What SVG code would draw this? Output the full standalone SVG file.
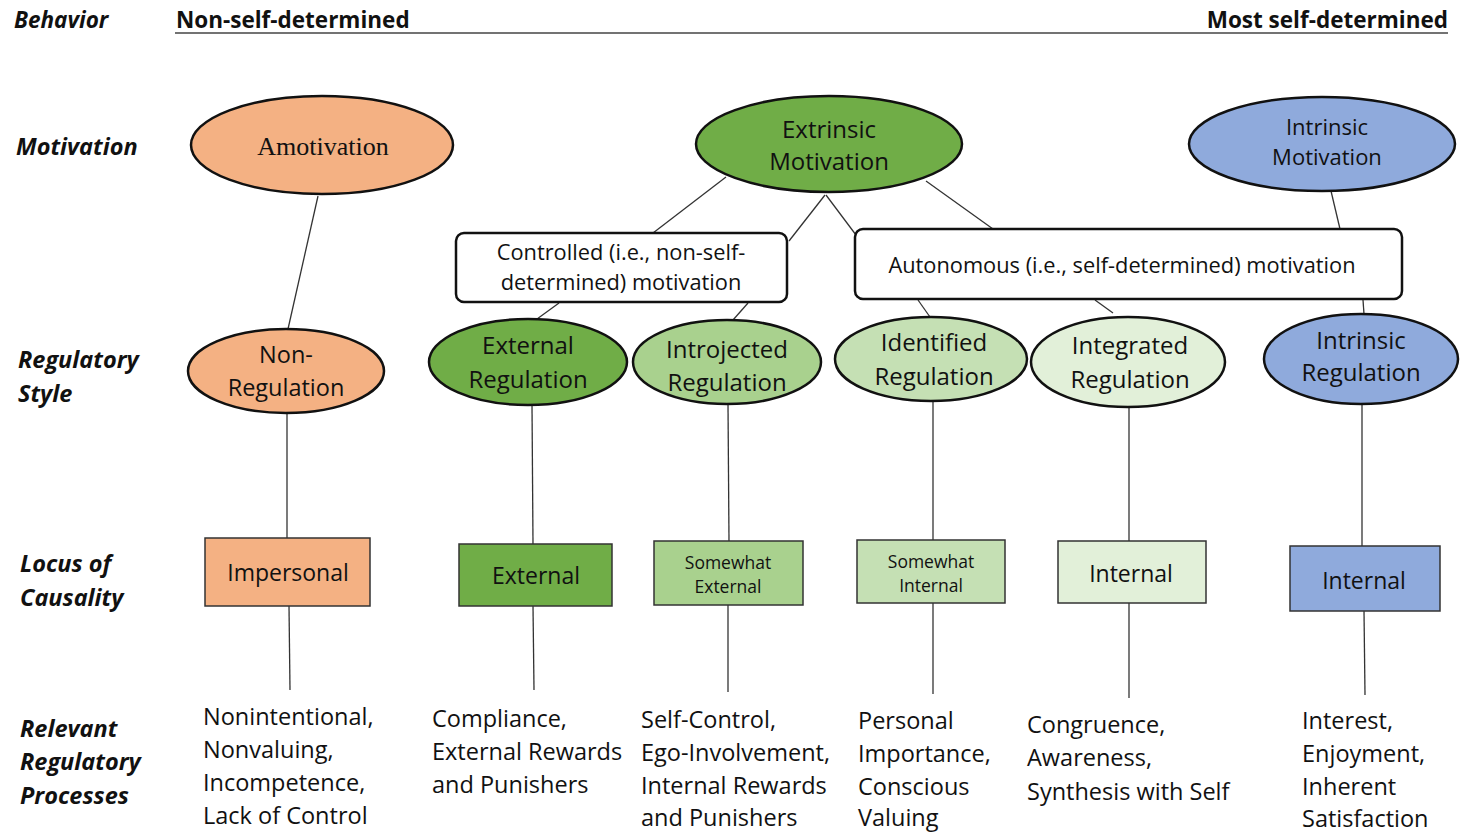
<svg xmlns="http://www.w3.org/2000/svg" width="1461" height="832" viewBox="0 0 1461 832">
<style>
text{font-family:"Open Sans","Noto Sans",sans-serif;fill:#111}
.hd{font-weight:bold;font-size:22.5px}
.rl{font-weight:bold;font-style:italic;font-size:23.5px}
.nt{font-size:24px;text-anchor:middle}
.sm{font-size:17.5px;text-anchor:middle}
.bt{font-size:23.5px}
.el{stroke:#111;stroke-width:2.5}
.bx{stroke:#333;stroke-width:1.5}
.rb{fill:#fff;stroke:#111;stroke-width:2.5}
.cn line{stroke:#333;stroke-width:1.3}
</style>
<g id="header">
<text class="rl" x="14" y="28" style="font-size:22.5px">Behavior</text>
<text class="hd" x="176" y="28">Non-self-determined</text>
<text class="hd" x="1448" y="28" text-anchor="end">Most self-determined</text>
<line x1="175" y1="33" x2="1448" y2="33" stroke="#444" stroke-width="1.3"/>
</g>
<g id="row-labels">
<text class="rl" x="16" y="155">Motivation</text>
<text class="rl" x="18" y="368">Regulatory</text>
<text class="rl" x="18" y="402">Style</text>
<text class="rl" x="20" y="572">Locus of</text>
<text class="rl" x="20" y="606">Causality</text>
<text class="rl" x="20" y="737">Relevant</text>
<text class="rl" x="20" y="770">Regulatory</text>
<text class="rl" x="20" y="804">Processes</text>
</g>
<g id="connectors" class="cn">
<line x1="318" y1="196" x2="288" y2="329"/>
<line x1="726" y1="177" x2="653" y2="233"/>
<line x1="825" y1="195" x2="789" y2="241"/>
<line x1="826" y1="195" x2="856" y2="235"/>
<line x1="926" y1="181" x2="993" y2="229"/>
<line x1="1331" y1="191" x2="1340" y2="229"/>
<line x1="559" y1="303" x2="537" y2="319"/>
<line x1="748" y1="303" x2="733" y2="320"/>
<line x1="918" y1="300" x2="930" y2="317"/>
<line x1="1095" y1="300" x2="1113" y2="313"/>
<line x1="1363" y1="300" x2="1364" y2="314"/>
<line x1="287" y1="413" x2="287" y2="538"/>
<line x1="289" y1="606" x2="290" y2="690"/>
<line x1="532" y1="405" x2="533" y2="544"/>
<line x1="533" y1="606" x2="534" y2="690"/>
<line x1="728" y1="404" x2="729" y2="541"/>
<line x1="728" y1="605" x2="728" y2="692"/>
<line x1="933" y1="401" x2="933" y2="540"/>
<line x1="933" y1="603" x2="933" y2="694"/>
<line x1="1129" y1="407" x2="1129" y2="541"/>
<line x1="1129" y1="603" x2="1129" y2="698"/>
<line x1="1362" y1="404" x2="1362" y2="546"/>
<line x1="1364" y1="611" x2="1365" y2="695"/>
</g>
<g id="amotivation">
<ellipse class="el" cx="322" cy="145" rx="131" ry="49" fill="#f4b183"/>
<text x="323" y="155" font-size="26" text-anchor="middle" style="font-family:'Liberation Serif',serif">Amotivation</text>
</g>
<g id="extrinsic-motivation">
<ellipse class="el" cx="829" cy="144" rx="133" ry="48" fill="#70ad47"/>
<text class="nt" x="829" y="138">Extrinsic</text>
<text class="nt" x="829" y="170">Motivation</text>
</g>
<g id="intrinsic-motivation">
<ellipse class="el" cx="1322" cy="144" rx="133" ry="47" fill="#8faadc"/>
<text class="nt" x="1327" y="135" style="font-size:22px">Intrinsic</text>
<text class="nt" x="1327" y="165" style="font-size:22px">Motivation</text>
</g>
<g id="controlled">
<rect class="rb" x="456" y="233" width="331" height="69" rx="8"/>
<text class="nt" x="621" y="260" style="font-size:21.8px">Controlled (i.e., non-self-</text>
<text class="nt" x="621" y="290" style="font-size:21.8px">determined) motivation</text>
</g>
<g id="autonomous">
<rect class="rb" x="855" y="229" width="547" height="70" rx="8"/>
<text class="nt" x="1122" y="273" style="font-size:21.8px">Autonomous (i.e., self-determined) motivation</text>
</g>
<g id="non-regulation">
<ellipse class="el" cx="286" cy="371" rx="98" ry="42" fill="#f4b183"/>
<text class="nt" x="286" y="363" style="font-size:23.5px">Non-</text>
<text class="nt" x="286" y="396" style="font-size:23.5px">Regulation</text>
</g>
<g id="external-regulation">
<ellipse class="el" cx="528" cy="362" rx="99" ry="43" fill="#70ad47"/>
<text class="nt" x="528" y="354">External</text>
<text class="nt" x="528" y="388">Regulation</text>
</g>
<g id="introjected-regulation">
<ellipse class="el" cx="727" cy="362" rx="94" ry="42" fill="#a9d18e"/>
<text class="nt" x="727" y="358">Introjected</text>
<text class="nt" x="727" y="391">Regulation</text>
</g>
<g id="identified-regulation">
<ellipse class="el" cx="931" cy="359" rx="96" ry="42" fill="#c5e0b4"/>
<text class="nt" x="934" y="351">Identified</text>
<text class="nt" x="934" y="385">Regulation</text>
</g>
<g id="integrated-regulation">
<ellipse class="el" cx="1128" cy="362" rx="97" ry="45" fill="#e2f0d9"/>
<text class="nt" x="1130" y="354">Integrated</text>
<text class="nt" x="1130" y="388">Regulation</text>
</g>
<g id="intrinsic-regulation">
<ellipse class="el" cx="1361" cy="359" rx="97" ry="45" fill="#8faadc"/>
<text class="nt" x="1361" y="349">Intrinsic</text>
<text class="nt" x="1361" y="381">Regulation</text>
</g>
<g id="impersonal">
<rect class="bx" x="205" y="538" width="165" height="68" fill="#f4b183"/>
<text class="nt" x="288" y="581" style="font-size:23px">Impersonal</text>
</g>
<g id="external">
<rect class="bx" x="459" y="544" width="153" height="62" fill="#70ad47"/>
<text class="nt" x="536" y="584" style="font-size:23px">External</text>
</g>
<g id="somewhat-external">
<rect class="bx" x="654" y="541" width="149" height="64" fill="#a9d18e"/>
<text class="sm" x="728" y="569">Somewhat</text>
<text class="sm" x="728" y="593">External</text>
</g>
<g id="somewhat-internal">
<rect class="bx" x="857" y="540" width="148" height="63" fill="#c5e0b4"/>
<text class="sm" x="931" y="568">Somewhat</text>
<text class="sm" x="931" y="592">Internal</text>
</g>
<g id="internal-integrated">
<rect class="bx" x="1058" y="541" width="148" height="62" fill="#e2f0d9"/>
<text class="nt" x="1131" y="582" style="font-size:23px">Internal</text>
</g>
<g id="internal-intrinsic">
<rect class="bx" x="1290" y="546" width="150" height="65" fill="#8faadc"/>
<text class="nt" x="1364" y="589" style="font-size:23px">Internal</text>
</g>
<g id="processes">
<text class="bt" x="203" y="725">Nonintentional,</text>
<text class="bt" x="203" y="758">Nonvaluing,</text>
<text class="bt" x="203" y="791">Incompetence,</text>
<text class="bt" x="203" y="824">Lack of Control</text>
<text class="bt" x="432" y="727">Compliance,</text>
<text class="bt" x="432" y="760">External Rewards</text>
<text class="bt" x="432" y="793">and Punishers</text>
<text class="bt" x="641" y="728">Self-Control,</text>
<text class="bt" x="641" y="761">Ego-Involvement,</text>
<text class="bt" x="641" y="794">Internal Rewards</text>
<text class="bt" x="641" y="826">and Punishers</text>
<text class="bt" x="858" y="729">Personal</text>
<text class="bt" x="858" y="762">Importance,</text>
<text class="bt" x="858" y="795">Conscious</text>
<text class="bt" x="858" y="826">Valuing</text>
<text class="bt" x="1027" y="733">Congruence,</text>
<text class="bt" x="1027" y="766">Awareness,</text>
<text class="bt" x="1027" y="800">Synthesis with Self</text>
<text class="bt" x="1302" y="729">Interest,</text>
<text class="bt" x="1302" y="762">Enjoyment,</text>
<text class="bt" x="1302" y="795">Inherent</text>
<text class="bt" x="1302" y="827">Satisfaction</text>
</g>
</svg>
